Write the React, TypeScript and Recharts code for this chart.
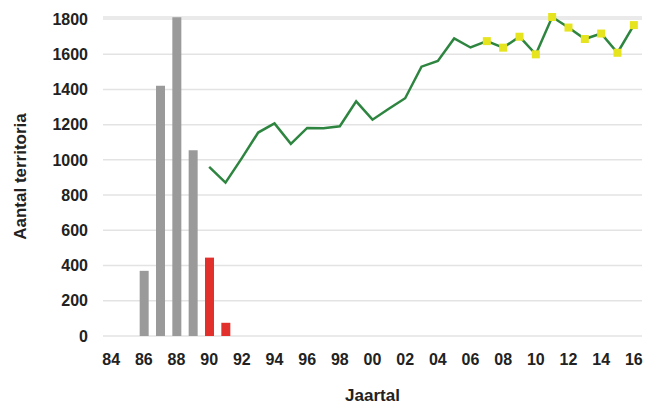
import React from "react";
import { ComposedChart, Bar, Line, XAxis, YAxis, CartesianGrid, Cell } from "recharts";

const years = [
  "84", "85", "86", "87", "88", "89", "90", "91", "92", "93", "94",
  "95", "96", "97", "98", "99", "00", "01", "02", "03", "04", "05",
  "06", "07", "08", "09", "10", "11", "12", "13", "14", "15", "16",
];

// bars: counts 1986-1991
const barValues = [
  null, null, 370, 1420, 1810, 1055, 445, 75, null, null, null,
  null, null, null, null, null, null, null, null, null, null, null,
  null, null, null, null, null, null, null, null, null, null, null,
];

// line: counts 1990-2016
const lineValues = [
  null, null, null, null, null, null, 960, 871, 1010, 1155, 1207,
  1091, 1181, 1180, 1191, 1332, 1228, 1290, 1350, 1529, 1561, 1689,
  1638, 1674, 1637, 1699, 1599, 1811, 1751, 1686, 1717, 1608, 1765,
];

const redYears = ["90", "91"];
const markerFrom = "07";
const yTicks = [0, 200, 400, 600, 800, 1000, 1200, 1400, 1600, 1800];

const data = years.map((y, i) => ({ year: y, bar: barValues[i], count: lineValues[i] }));
const markerStart = years.indexOf(markerFrom);

const font = "'Liberation Sans', Arial, sans-serif";
const tickStyle = { fontSize: 16, fontWeight: 700, fill: "#222", fontFamily: font };

function YellowDot(props: any) {
  const { cx, cy, index } = props;
  if (index < markerStart || cy == null) return <g key={`d-${index}`} />;
  return <rect key={`d-${index}`} x={cx - 4} y={cy - 4} width={8} height={8} fill="#e6e41e" />;
}

export default function App() {
  return (
    <div style={{ position: "absolute", left: 0, top: 0, background: "#fff" }}>
      <ComposedChart
        width={652}
        height={408}
        data={data}
        margin={{ top: 17, right: 10, left: 5, bottom: 10 }}
      >
        <CartesianGrid vertical={false} stroke="#e3e3e3" strokeWidth={1.5} />
        <XAxis
          dataKey="year"
          interval={1}
          axisLine={false}
          tickLine={false}
          tickMargin={12}
          height={62}
          tick={tickStyle}
          label={{
            value: "Jaartal",
            position: "insideBottom",
            offset: -3,
            style: { fontSize: 17, fontWeight: 700, fill: "#222", fontFamily: font },
          }}
        />
        <YAxis
          domain={[0, 1800]}
          ticks={yTicks}
          axisLine={false}
          tickLine={false}
          tickMargin={9}
          width={98}
          tick={tickStyle}
          label={{
            value: "Aantal territoria",
            angle: -90,
            position: "insideLeft",
            offset: 15,
            style: { fontSize: 17, fontWeight: 700, fill: "#222", fontFamily: font, textAnchor: "middle" },
          }}
        />
        <Bar dataKey="bar" barSize={9} isAnimationActive={false}>
          {data.map((d) => (
            <Cell key={d.year} fill={redYears.includes(d.year) ? "#e2302c" : "#9a9a9a"} />
          ))}
        </Bar>
        <Line
          dataKey="count"
          stroke="#2e8540"
          strokeWidth={2.5}
          dot={YellowDot}
          activeDot={false}
          isAnimationActive={false}
        />
      </ComposedChart>
    </div>
  );
}
